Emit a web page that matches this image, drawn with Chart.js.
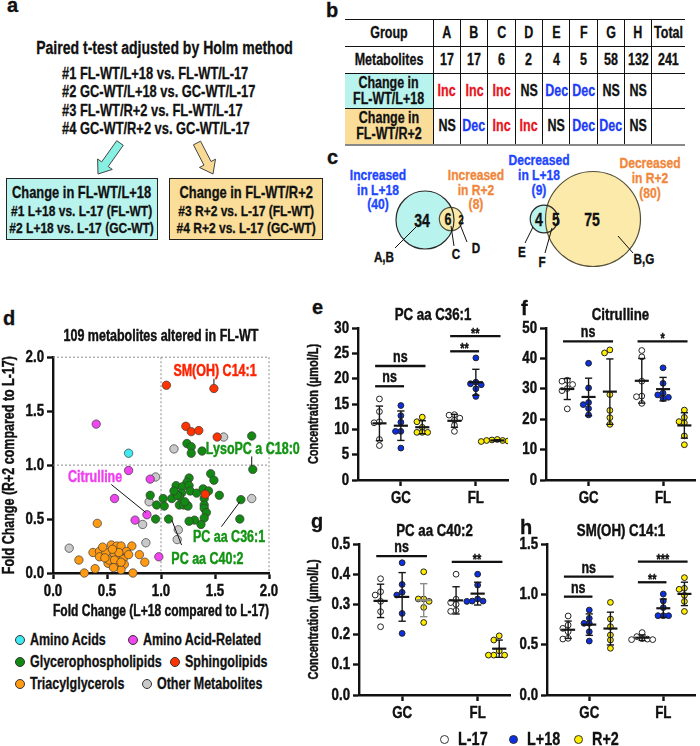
<!DOCTYPE html>
<html>
<head>
<meta charset="utf-8">
<title>Metabolite changes</title>
<script src="https://cdn.jsdelivr.net/npm/chart.js@4.4.1/dist/chart.umd.min.js"></script>
<style>
  body { margin: 0; background: #fff; }
  #fig {
    position: relative; width: 700px; height: 746px; overflow: hidden;
    font-family: 'Liberation Sans', Arial, sans-serif;
    font-weight: bold; color: #111; -webkit-text-stroke: 0.3px currentColor;
  }
  #fig > * { position: absolute; }
  canvas { display: block; }
  .tag { font-size: 20px; line-height: 0; }
  .t0 { line-height: 0; white-space: nowrap; }
  .sq { display: inline-block; transform: scaleX(0.78); white-space: nowrap; }
  .box { box-sizing: border-box; border: 1.5px solid #222; padding-top: 5px; font-size: 15.4px;
         line-height: 17.5px; text-align: center; white-space: nowrap; }
  .box .wide { margin: 0 -40px; }
  .box b { font-size: 16.5px; }
  #tbl { border-collapse: collapse; table-layout: fixed; font-size: 16px; text-align: center; }
  #tbl td { border-left: 1px solid #111; border-top: 1px solid #111; padding: 0; line-height: 16px; white-space: nowrap; }
  #tbl td > div { margin: 0 -30px; }
  #tbl td:first-child { border-left: none; }
  #tbl tr:first-child td { border-top: 2px solid #555; }
  #tbl tr:last-child td { border-bottom: 2px solid #888; }
  .dot { position: absolute; border-radius: 50%; border: 1px solid #333; box-sizing: border-box; }
  .legtxt { position: absolute; line-height: 0; white-space: nowrap; }
</style>
</head>
<body>
<div id="fig">
  <svg id="art" width="700" height="746" style="left:0;top:0"></svg>

  <!-- a -->
  <div class="tag" style="left:7px;top:5px">a</div>
  <div class="t0" style="left:0;width:322px;top:48px;text-align:center;font-size:18px"><span class="sq" style="transform-origin:50% 0">Paired t-test adjusted by Holm method</span></div>
  <div style="left:62px;top:64px;font-size:16.5px;line-height:18.3px">
    <span class="sq" style="transform-origin:0 0">#1 FL-WT/L+18 vs. FL-WT/L-17<br>#2 GC-WT/L+18 vs. GC-WT/L-17<br>#3 FL-WT/R+2 vs. FL-WT/L-17<br>#4 GC-WT/R+2 vs. GC-WT/L-17</span>
  </div>
  <div class="box" style="left:6px;top:178px;width:152px;height:62px;background:#b9f3ee">
    <div class="wide"><span class="sq" style="transform-origin:50% 0"><b>Change in FL-WT/L+18</b><br>#1 L+18 vs. L-17 (FL-WT)<br>#2 L+18 vs. L-17 (GC-WT)</span></div>
  </div>
  <div class="box" style="left:169px;top:178px;width:154px;height:62px;background:#f9dd98">
    <div class="wide"><span class="sq" style="transform-origin:50% 0"><b>Change in FL-WT/R+2</b><br>#3 R+2 vs. L-17 (FL-WT)<br>#4 R+2 vs. L-17 (GC-WT)</span></div>
  </div>

  <!-- b, c -->
  <div class="tag" style="left:326px;top:10px">b</div>
  <table id="tbl" style="left:345px;top:19px;width:340px"></table>
  <div class="tag" style="left:327px;top:157px">c</div>

  <!-- d .. h -->
  <div class="tag" style="left:3px;top:318px">d</div>
  <canvas id="chartD" width="302" height="305" style="left:0;top:320px"></canvas>
  <div id="legD" style="left:0;top:0"></div>

  <div class="tag" style="left:312px;top:307px">e</div>
  <canvas id="chartE" width="215" height="210" style="left:300px;top:300px"></canvas>
  <div class="tag" style="left:521px;top:308px">f</div>
  <canvas id="chartF" width="182" height="210" style="left:518px;top:300px"></canvas>
  <div class="tag" style="left:311px;top:521px">g</div>
  <canvas id="chartG" width="215" height="210" style="left:300px;top:515px"></canvas>
  <div class="tag" style="left:520px;top:527px">h</div>
  <canvas id="chartH" width="182" height="210" style="left:518px;top:515px"></canvas>

  <div id="legBottom" style="left:0;top:0"></div>
</div>

<script>
const FONT = "'Liberation Sans', Arial, sans-serif"
const SQUEEZE = 0.78

// ---- panel b: groups of metabolites
const groupNames = ['A', 'B', 'C', 'D', 'E', 'F', 'G', 'H']
const groupSizes = [17, 17, 6, 2, 4, 5, 58, 132]
const groupTotal = 241
const changeL18 = ['Inc', 'Inc', 'Inc', 'NS', 'Dec', 'Dec', 'NS', 'NS']
const changeR2 = ['NS', 'Dec', 'Inc', 'Inc', 'NS', 'Dec', 'Dec', 'NS']

// ---- panel c: venn counts
const incL18 = 40, incR2 = 8, incBoth = 6
const decL18 = 9, decR2 = 80, decBoth = 5

// ---- panel d: fold changes [L+18, R+2] per class
const aminoAcids = [[0.70, 1.11]]
const aminoAcidRelated = [[0.40, 1.38], [0.70, 0.95], [0.90, 0.87], [0.57, 0.69], [0.87, 0.54], [0.76, 0.49], [0.98, 0.15]]
const glycerophospholipids = [
  [1.84, 1.27], [1.24, 1.20], [1.28, 1.17], [1.28, 1.11], [1.38, 1.13], [1.85, 0.96],
  [1.46, 0.92], [1.49, 0.86], [1.26, 0.88], [1.24, 0.84], [1.14, 0.81], [1.20, 0.80],
  [1.26, 0.81], [1.27, 0.76], [1.19, 0.74], [1.33, 0.74], [1.39, 0.78], [1.44, 0.76],
  [1.54, 0.72], [1.40, 0.69], [0.90, 0.72], [1.02, 0.69], [0.96, 0.63], [1.10, 0.69],
  [1.17, 0.71], [1.17, 0.63], [1.24, 0.63], [1.40, 0.63], [1.74, 0.68], [1.40, 0.60],
  [1.42, 0.56], [1.40, 0.51], [1.37, 0.45], [1.31, 0.49], [1.26, 0.48], [1.03, 0.62],
  [1.21, 0.63], [1.25, 0.62], [1.22, 0.66], [1.07, 0.50], [0.95, 0.50], [1.73, 0.50],
  [1.15, 0.72], [1.12, 0.76]
]
const sphingolipids = [[1.05, 1.74], [1.49, 1.71], [1.23, 1.36], [1.28, 1.31], [1.35, 1.32], [1.52, 1.26], [1.41, 0.73]]
const triacylglycerols = [
  [0.41, 0.46], [0.24, 0.12], [0.29, 0.00], [0.39, 0.04], [0.74, 0.00], [0.37, 0.19],
  [0.43, 0.20], [0.43, 0.15], [0.49, 0.19], [0.54, 0.26], [0.59, 0.25], [0.63, 0.25],
  [0.73, 0.25], [0.68, 0.20], [0.80, 0.17], [0.85, 0.10], [0.57, 0.17], [0.62, 0.15],
  [0.65, 0.13], [0.66, 0.08], [0.59, 0.08], [0.51, 0.09], [0.63, 0.03], [0.52, 0.12],
  [0.70, 0.17], [0.46, 0.24], [0.57, 0.12], [0.61, 0.19], [0.63, 0.10], [0.55, 0.22],
  [0.48, 0.14], [0.56, 0.05]
]
const otherMetabolites = [[1.58, 1.26], [1.12, 1.15], [0.95, 0.89], [0.89, 0.66], [0.83, 0.45], [0.86, 0.28], [0.15, 0.23], [1.16, 0.40], [1.15, 0.31], [1.84, 0.69]]

const classNames = ['Amino Acids', 'Amino Acid-Related', 'Glycerophospholipids', 'Sphingolipids', 'Triacylglycerols', 'Other Metabolites']
const classPoints = [aminoAcids, aminoAcidRelated, glycerophospholipids, sphingolipids, triacylglycerols, otherMetabolites]
const classColors = ['#3fe9f2', '#f044f0', '#128a12', '#ff3300', '#ff9a12', '#c9c9c9']
const classOrder = [1, 2, 3, 0, 5, 4]
const foldRefs = [1, 2]

// ---- panels e-h: concentrations [GC, FL] per condition
const conditions = ['L-17', 'L+18', 'R+2']
const condColors = ['#ffffff', '#0b2fe3', '#ffee00']
const sites = ['GC', 'FL']

const pc361L17 = [[16.0, 13.5, 11.5, 11.3, 8.0, 6.8], [12.9, 12.8, 12.2, 11.8, 10.8, 9.6]]
const pc361L18 = [[14.7, 12.7, 11.4, 9.6, 9.6, 6.3], [24.1, 19.3, 19.0, 18.8, 18.0, 16.5]]
const pc361R2 = [[12.4, 11.5, 10.4, 9.4, 9.4, 9.4], [8.0, 7.9, 7.8, 7.8, 7.7, 7.6]]

const citL17 = [[32.8, 32.5, 31.4, 30.1, 29.4, 23.4], [42.6, 40.5, 32.5, 27.6, 27.4, 25.2]]
const citL18 = [[38.4, 30.3, 25.5, 24.8, 23.5, 21.4], [36.9, 31.8, 28.6, 28.0, 27.2, 26.8]]
const citR2 = [[42.8, 41.8, 28.1, 22.9, 20.5, 18.3], [23.0, 20.6, 19.2, 18.8, 14.5, 11.6]]

const pc402L17 = [[0.385, 0.342, 0.331, 0.310, 0.276, 0.226], [0.400, 0.317, 0.306, 0.300, 0.280, 0.277]]
const pc402L18 = [[0.438, 0.366, 0.340, 0.331, 0.270, 0.204], [0.400, 0.364, 0.318, 0.311, 0.311, 0.310]]
const pc402R2 = [[0.408, 0.318, 0.318, 0.310, 0.290, 0.240], [0.196, 0.182, 0.146, 0.132, 0.132, 0.132]]

const smL17 = [[0.785, 0.695, 0.662, 0.629, 0.563, 0.556], [0.620, 0.580, 0.560, 0.555, 0.550, 0.550]]
const smL18 = [[0.844, 0.762, 0.712, 0.712, 0.629, 0.536], [1.003, 0.934, 0.868, 0.788, 0.788, 0.788]]
const smR2 = [[0.920, 0.755, 0.679, 0.596, 0.546, 0.464], [1.166, 1.060, 1.050, 0.990, 0.930, 0.830]]

// significance: site, first condition, second condition, height, mark
const sigE = [[0, 0, 1, 18.5, 'ns'], [0, 0, 2, 22.5, 'ns'], [1, 0, 1, 25.4, '**'], [1, 0, 2, 28.4, '**']]
const sigF = [[0, 0, 2, 45.6, 'ns'], [1, 0, 2, 45.6, '*']]
const sigG = [[0, 0, 2, 0.46, 'ns'], [1, 0, 2, 0.441, '**']]
const sigH = [[0, 0, 1, 0.977, 'ns'], [0, 0, 2, 1.175, 'ns'], [1, 0, 1, 1.12, '**'], [1, 0, 2, 1.325, '***']]

// the figure uses a heavy condensed face: squeeze (and thicken) canvas text
const proto = CanvasRenderingContext2D.prototype
const rawFill = proto.fillText, rawMeasure = proto.measureText
proto.measureText = function (s) {
  const m = rawMeasure.call(this, s)
  return {
    width: m.width * SQUEEZE,
    actualBoundingBoxAscent: m.actualBoundingBoxAscent,
    actualBoundingBoxDescent: m.actualBoundingBoxDescent,
    actualBoundingBoxLeft: m.actualBoundingBoxLeft * SQUEEZE,
    actualBoundingBoxRight: m.actualBoundingBoxRight * SQUEEZE,
  }
}
proto.fillText = function (s, x, y, maxWidth) {
  const w = rawMeasure.call(this, s).width * SQUEEZE
  const mw = maxWidth === undefined ? w : Math.min(w, maxWidth)
  rawFill.call(this, s, x, y, mw)
  this.save()
  this.setLineDash([])
  this.strokeStyle = this.fillStyle
  this.lineWidth = 0.45
  this.strokeText(s, x, y, mw)
  this.restore()
}

Chart.defaults.font.family = FONT
Chart.defaults.font.weight = 'bold'
Chart.defaults.color = '#111'
Chart.defaults.animation = false
Chart.defaults.events = []
Chart.defaults.plugins.legend.display = false
Chart.defaults.plugins.tooltip.enabled = false

// ---------- table (b)
const tbl = document.getElementById('tbl')
const colW = [88, ...groupNames.map(() => 27.3), 33]
tbl.innerHTML = '<colgroup>' + colW.map(w => `<col style="width:${w}px">`).join('') + '</colgroup>'
const mark = s => s === 'Inc' ? `<span style="color:#e8141b">${s}</span>`
  : s === 'Dec' ? `<span style="color:#1d3cf5">${s}</span>` : s
const tableRows = [
  { h: 27, bg: '', cells: ['Group', ...groupNames, 'Total'] },
  { h: 27, bg: '', cells: ['Metabolites', ...groupSizes, groupTotal] },
  { h: 35, bg: '#b9f3ee', cells: ['Change in<br>FL-WT/L+18', ...changeL18.map(mark), ''] },
  { h: 36, bg: '#f9dd98', cells: ['Change in<br>FL-WT/R+2', ...changeR2.map(mark), ''] },
]
tableRows.forEach(r => {
  const tr = document.createElement('tr')
  tr.style.height = r.h + 'px'
  r.cells.forEach((c, i) => {
    const td = document.createElement('td')
    td.innerHTML = `<div><span class="sq" style="transform-origin:50% 0">${c}</span></div>`
    if (i === 0 && r.bg) td.style.background = r.bg
    tr.appendChild(td)
  })
  tbl.appendChild(tr)
})

// ---------- svg art: arrows (a) and venn diagrams (c)
const NS = 'http://www.w3.org/2000/svg'
const art = document.getElementById('art')
function el(tag, attrs) {
  const e = document.createElementNS(NS, tag)
  for (const k in attrs) e.setAttribute(k, attrs[k])
  art.appendChild(e)
  return e
}
function label(x, y, str, size, color) {
  const t = el('text', {
    x: 0, y: 0, transform: `translate(${x} ${y}) scale(${SQUEEZE} 1)`,
    'text-anchor': 'middle', 'dominant-baseline': 'central', 'font-size': size, fill: color || '#111', 'font-weight': 'bold',
    stroke: color || '#111', 'stroke-width': 0.35,
  })
  t.textContent = str
}
function arrow(x1, y1, x2, y2, fill) {
  const len = Math.hypot(x2 - x1, y2 - y1), dx = (x2 - x1) / len, dy = (y2 - y1) / len
  const nx = -dy, ny = dx, s = 4, hh = 9, hl = 12
  const bx = x2 - dx * hl, by = y2 - dy * hl
  const pts = [[x1 + nx * s, y1 + ny * s], [bx + nx * s, by + ny * s], [bx + nx * hh, by + ny * hh], [x2, y2],
    [bx - nx * hh, by - ny * hh], [bx - nx * s, by - ny * s], [x1 - nx * s, y1 - ny * s]]
  el('polygon', { points: pts.map(p => p.join(',')).join(' '), fill, stroke: '#444', 'stroke-width': 1 })
}
arrow(120, 143, 98, 174, '#86f1e3')
arrow(197, 143, 213, 174, '#f8da94')

function venn(a, b) {
  el('circle', { cx: a[0], cy: a[1], r: a[2], fill: '#b9f3ee' })
  el('circle', { cx: b[0], cy: b[1], r: b[2], fill: '#fbe8a2', 'fill-opacity': 0.92, stroke: '#55503a', 'stroke-width': 1.2 })
  el('circle', { cx: a[0], cy: a[1], r: a[2], fill: 'none', stroke: '#2a2a2a', 'stroke-width': 1.2 })
}
function pointer(x1, y1, x2, y2, str, tx, ty) {
  el('line', { x1, y1, x2, y2, stroke: '#111', 'stroke-width': 1 })
  label(tx, ty, str, 15)
}
venn([425, 220, 29], [451, 219, 11.7])
venn([544, 219, 13.8], [593, 219, 47.5])
label(422, 220, incL18 - incBoth, 18); label(448, 219, incBoth, 16); label(461, 220, incR2 - incBoth, 12)
label(539, 219, decL18 - decBoth, 18); label(556, 219, decBoth, 18); label(592, 219, decR2 - decBoth, 18)
const BLUE = '#1e46ff', ORANGE = '#f0883c'
;[['Increased', 378, 174, BLUE], ['in L+18', 378, 189, BLUE], [`(${incL18})`, 378, 203, BLUE],
  ['Increased', 476, 174, ORANGE], ['in R+2', 476, 189, ORANGE], [`(${incR2})`, 476, 203, ORANGE],
  ['Decreased', 539, 159, BLUE], ['in L+18', 539, 174, BLUE], [`(${decL18})`, 539, 189, BLUE],
  ['Decreased', 650, 162, ORANGE], ['in R+2', 650, 177, ORANGE], [`(${decR2})`, 650, 192, ORANGE]
].forEach(([s, x, y, c]) => label(x, y, s, 15.5, c))
pointer(416, 227, 395, 248, 'A,B', 384, 257)
pointer(451, 226, 454, 246, 'C', 456, 254)
pointer(459, 222, 467, 242, 'D', 476, 248)
pointer(533, 227, 525, 243, 'E', 522, 252)
pointer(552, 228, 545, 253, 'F', 542, 262)
pointer(618, 236, 633, 253, 'B,G', 644, 259)

// ---------- shared axis styling
const axisLine = { color: '#111', width: 2.4 }
const tickGrid = { drawOnChartArea: false, tickLength: 6, tickWidth: 2.4, tickColor: '#111' }

// ---------- d: scatter of fold changes
const dNotes = [
  { text: 'SM(OH) C14:1', color: '#ff2200', x: 1.50, y: 1.87, line: [1.49, 1.80, 1.49, 1.75] },
  { text: 'LysoPC a C18:0', color: '#149414', x: 1.85, y: 1.14, line: [1.84, 1.08, 1.84, 0.99] },
  { text: 'Citrulline', color: '#ee40ee', x: 0.39, y: 0.88, line: [0.54, 0.82, 0.86, 0.56] },
  { text: 'PC aa C36:1', color: '#149414', x: 1.63, y: 0.33, line: [1.56, 0.43, 1.73, 0.66] },
  { text: 'PC aa C40:2', color: '#149414', x: 1.43, y: 0.12, line: [1.19, 0.26, 1.10, 0.49] },
]
const scatterDecor = {
  id: 'scatterDecor',
  beforeDatasetsDraw(chart) {
    const { ctx, chartArea: a, scales: { x, y } } = chart
    ctx.save()
    ctx.strokeStyle = '#8c8c8c'; ctx.lineWidth = 1; ctx.setLineDash([2, 2])
    foldRefs.forEach(v => {
      const px = x.getPixelForValue(v), py = y.getPixelForValue(v)
      ctx.beginPath(); ctx.moveTo(px, a.top); ctx.lineTo(px, a.bottom); ctx.stroke()
      ctx.beginPath(); ctx.moveTo(a.left, py); ctx.lineTo(a.right, py); ctx.stroke()
    })
    ctx.restore()
  },
  afterDatasetsDraw(chart) {
    const { ctx, scales: { x, y } } = chart
    ctx.save()
    ctx.font = `bold 16px ${FONT}`; ctx.textAlign = 'center'; ctx.textBaseline = 'middle'
    dNotes.forEach(n => {
      const [x1, y1, x2, y2] = n.line
      ctx.strokeStyle = '#111'; ctx.lineWidth = 1
      ctx.beginPath(); ctx.moveTo(x.getPixelForValue(x1), y.getPixelForValue(y1))
      ctx.lineTo(x.getPixelForValue(x2), y.getPixelForValue(y2)); ctx.stroke()
      ctx.fillStyle = n.color
      ctx.fillText(n.text, x.getPixelForValue(n.x), y.getPixelForValue(n.y))
    })
    ctx.restore()
  },
}

new Chart(document.getElementById('chartD'), {
  type: 'scatter',
  data: {
    datasets: classNames.map((name, i) => ({
      label: name,
      data: classPoints[i].map(([x, y]) => ({ x, y })),
      backgroundColor: classColors[i],
      borderColor: '#3a3a3a',
      borderWidth: 0.7,
      pointRadius: 4.2,
      order: classOrder[i],
      clip: false,
    })),
  },
  options: {
    responsive: false,
    layout: { padding: { right: 33 } },
    plugins: {
      title: { display: true, text: '109 metabolites altered in FL-WT', fullSize: false, font: { size: 16 }, padding: { top: 7, bottom: 11 } },
    },
    scales: {
      x: {
        type: 'linear', min: 0, max: 2, border: axisLine, grid: tickGrid,
        ticks: { stepSize: 0.5, font: { size: 17 }, padding: 2, maxRotation: 0, callback: v => v.toFixed(1) },
        title: { display: true, text: 'Fold Change (L+18 compared to L-17)', font: { size: 16 }, padding: { top: 0, bottom: 4 } },
        afterFit: s => { s.height = 52 },
      },
      y: {
        min: 0, max: 2, border: axisLine, grid: tickGrid,
        ticks: { stepSize: 0.5, font: { size: 17 }, padding: 3, callback: v => v.toFixed(1) },
        title: { display: true, text: 'Fold Change (R+2 compared to L-17)', font: { size: 16 }, padding: { top: 0, bottom: 0 } },
        afterFit: s => { s.width = 53 },
      },
    },
  },
  plugins: [scatterDecor],
})

// legend markers: [center x, center y]
function legendItem(host, cx, cy, d, color, text, gap, size) {
  host.insertAdjacentHTML('beforeend',
    `<span class="dot" style="left:${cx - d / 2}px;top:${cy - d / 2}px;width:${d}px;height:${d}px;background:${color}"></span>` +
    `<span class="legtxt" style="left:${cx + gap}px;top:${cy}px;font-size:${size}px"><span class="sq" style="transform-origin:0 0">${text}</span></span>`)
}
const legD = document.getElementById('legD')
const legDSlots = [[20, 640], [133, 640], [20, 662], [175, 662], [20, 684], [147, 684]]
classNames.forEach((name, i) => legendItem(legD, legDSlots[i][0], legDSlots[i][1], 10, classColors[i], name, 10, 16))

// ---------- e-h: dot plots with mean +/- SD
const GROUP_START = [1, 4.5]
const xOf = (g, c) => GROUP_START[g] + c

function swarm(vals, cx, pxPerY) {
  const placed = [], out = []
  const idx = vals.map((v, i) => i).sort((a, b) => vals[b] - vals[a])
  for (const i of idx) {
    const v = vals[i]
    for (const k of [0, -1, 1, -2, 2, -3, 3]) {
      const free = placed.every(p => Math.hypot((p.k - k) * 0.25 * 21.5, (p.v - v) * pxPerY) >= 4.6)
      if (free) { placed.push({ k, v }); out.push({ x: cx + k * 0.25, y: v }); break }
    }
  }
  return out
}

function statsPlugin(sig, barTint) {
  return {
    id: 'stats',
    afterDatasetsDraw(chart) {
      const { ctx, scales: { x, y } } = chart
      const seg = (x1, y1, x2, y2) => { ctx.beginPath(); ctx.moveTo(x1, y1); ctx.lineTo(x2, y2); ctx.stroke() }
      const unit = x.getPixelForValue(1) - x.getPixelForValue(0)
      ctx.save()
      chart.data.datasets.forEach((ds, c) => {
        ds.groups.forEach((vals, g) => {
          const m = vals.reduce((a, b) => a + b, 0) / vals.length
          const sd = Math.sqrt(vals.reduce((a, b) => a + (b - m) ** 2, 0) / (vals.length - 1))
          const px = x.getPixelForValue(xOf(g, c)), pm = y.getPixelForValue(m)
          const top = y.getPixelForValue(m + sd), bot = y.getPixelForValue(m - sd)
          ctx.strokeStyle = (barTint && barTint[c] && barTint[c][g]) || '#161616'
          ctx.lineWidth = 2.2
          seg(px - 0.33 * unit, pm, px + 0.33 * unit, pm)
          ctx.lineWidth = 1.4
          seg(px, top, px, bot)
          seg(px - 0.17 * unit, top, px + 0.17 * unit, top)
          seg(px - 0.17 * unit, bot, px + 0.17 * unit, bot)
        })
      })
      ctx.strokeStyle = '#111'; ctx.fillStyle = '#111'; ctx.textAlign = 'center'
      sig.forEach(([g, a, b, v, t]) => {
        const x1 = x.getPixelForValue(xOf(g, a) - 0.2), x2 = x.getPixelForValue(xOf(g, b) + 0.15)
        const py = y.getPixelForValue(v)
        ctx.lineWidth = 2.3
        seg(x1, py, x2, py)
        const ns = t === 'ns'
        ctx.font = `bold ${ns ? 16 : 14}px ${FONT}`
        ctx.textBaseline = 'alphabetic'
        ctx.fillText(t, (x1 + x2) / 2, ns ? py - 4 : py + 2)
      })
      ctx.restore()
    },
  }
}

function dotPlot(id, title, sets, yMax, yStep, digits, sig, showYTitle, box) {
  const pxPerY = 151 / yMax
  const datasets = sets.map((groups, c) => ({
    label: conditions[c],
    data: groups.flatMap((vals, g) => swarm(vals, xOf(g, c), pxPerY)),
    groups,
    backgroundColor: condColors[c],
    borderColor: '#222',
    borderWidth: 1,
    pointRadius: 2.9,
  }))
  return new Chart(document.getElementById(id), {
    type: 'scatter',
    data: { datasets },
    options: {
      responsive: false,
      layout: { padding: { right: box.right } },
      plugins: {
        title: { display: true, text: title, fullSize: false, font: { size: 17 }, padding: { top: box.tTop, bottom: box.tBot } },
      },
      scales: {
        x: {
          type: 'linear', min: 0, max: 7, border: axisLine, grid: tickGrid,
          afterBuildTicks: s => { s.ticks = [{ value: 2 }, { value: 5.5 }] },
          ticks: { font: { size: 17 }, padding: 2, maxRotation: 0, callback: v => v === 2 ? sites[0] : sites[1] },
          afterFit: s => { s.height = 30 },
        },
        y: {
          min: 0, max: yMax, border: axisLine, grid: tickGrid,
          ticks: { stepSize: yStep, font: { size: 17 }, padding: 3, callback: v => v.toFixed(digits) },
          title: { display: showYTitle, text: 'Concentration (μmol/L)', font: { size: 14 }, padding: { top: 6, bottom: 0 } },
          afterFit: s => { s.width = box.yw },
        },
      },
    },
    plugins: [statsPlugin(sig, box.tint)],
  })
}

dotPlot('chartE', 'PC aa C36:1', [pc361L17, pc361L18, pc361R2], 30, 5, 0, sigE, true, { yw: 58, right: 7, tTop: 5, tBot: 2.6 })
dotPlot('chartF', 'Citrulline', [citL17, citL18, citR2], 50, 10, 0, sigF, false, { yw: 28, right: 2, tTop: 5, tBot: 2.6 })
dotPlot('chartG', 'PC aa C40:2', [pc402L17, pc402L18, pc402R2], 0.5, 0.1, 1, sigG, true, { yw: 59, right: 5, tTop: 6, tBot: 2.6, tint: [null, null, ['#8a8a8a', null]] })
dotPlot('chartH', 'SM(OH) C14:1', [smL17, smL18, smR2], 1.5, 0.5, 1, sigH, false, { yw: 29, right: 2, tTop: 6, tBot: 2.6 })

// bottom legend
const legB = document.getElementById('legBottom')
const legBSlots = [444, 513, 578]
conditions.forEach((c, i) => legendItem(legB, legBSlots[i], 739, 9, condColors[i], c, 14, 18.5))
</script>
</body>
</html>
